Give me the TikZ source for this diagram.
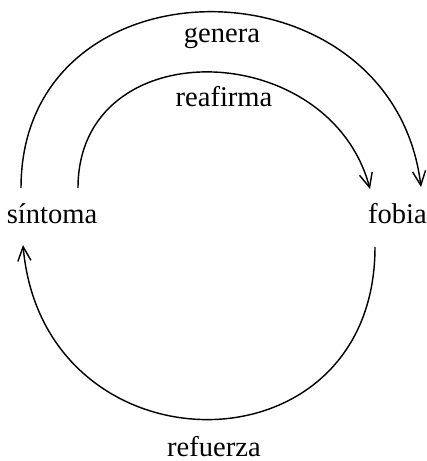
\documentclass[tikz,border=0pt]{standalone}
\usepackage{fontspec}
\setmainfont{Liberation Serif}
\usetikzlibrary{arrows.meta,calc,positioning}

\begin{document}
\begin{tikzpicture}[x=.35pt,y=.35pt,font=\normalsize,
    concept/.style={inner sep=0pt,anchor=base},
    rel/.style={inner sep=0pt,anchor=base},
    loop/.style={-{Straight Barb[length=5pt,width=4.6pt]},line width=.5pt}]
    \useasboundingbox (0,0) rectangle (427,461);
    \node[concept] (sintoma) at (52,237) {síntoma};
    \node[concept] (fobia) at (397.5,237) {fobia};
    \node[rel] (genera) at (222,418) {genera};
    \node[rel] (reafirma) at (224,354) {reafirma};
    \node[rel] (refuerza) at (214,4) {refuerza};
    \draw[loop] ($(sintoma.base)+(-31,36)$) to[out=90,in=97,looseness=1.5]
      ($(fobia.base)+(23.5,37)$);
    \draw[loop] ($(sintoma.base)+(26,36)$) to[out=90,in=105,looseness=1.38]
      ($(fobia.base)+(-27.5,35)$);
    \draw[loop] ($(fobia.base)+(-22.5,-23)$) to[out=-90,in=-85,looseness=1.68]
      ($(sintoma.base)+(-29,-21)$);
  \end{tikzpicture}
\end{document}
